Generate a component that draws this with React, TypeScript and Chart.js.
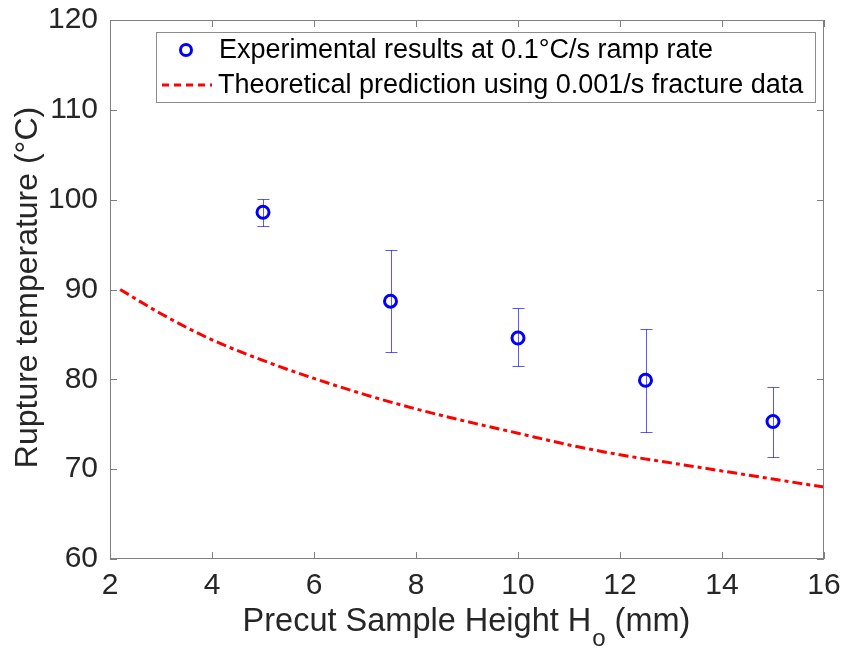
import React, { useEffect, useRef } from "react";
import { Chart, registerables } from "chart.js";

Chart.register(...registerables);

// ---- data ----
const expX = [5, 7.5, 10, 12.5, 15];
const expY = [98.6, 88.7, 84.6, 79.9, 75.3];
const expErrLow = [97.1, 83.0, 81.5, 74.1, 71.4];
const expErrHigh = [100.1, 94.4, 87.9, 85.6, 79.2];

const theoX = [2.2, 3, 4, 5, 6, 7, 8, 9, 10, 11, 12, 13, 14, 15, 16];
const theoY = [90.0, 87.3, 84.4, 82.1, 80.1, 78.3, 76.7, 75.3, 74.0, 72.7, 71.6, 70.7, 69.8, 68.9, 68.0];

const xTicks = [2, 4, 6, 8, 10, 12, 14, 16];
const yTicks = [60, 70, 80, 90, 100, 110, 120];

const expLabel = "Experimental results at 0.1°C/s ramp rate";
const theoLabel = "Theoretical prediction using 0.001/s fracture data";
const yTitle = "Rupture temperature (°C)";
const xTitleMain = "Precut Sample Height H";
const xTitleSub = "o";
const xTitleTail = " (mm)";

const FONT = "'Liberation Sans', Arial, Helvetica, sans-serif";
const AXIS_COLOR = "#808080";
const TEXT_COLOR = "#262626";
const DASH = [10, 4, 4, 4];

const errorBarPlugin = {
  id: "errorBars",
  afterDatasetsDraw(chart: any) {
    const ctx = chart.ctx;
    const xs = chart.scales.x;
    const ys = chart.scales.y;
    ctx.save();
    ctx.strokeStyle = "rgba(0,0,255,0.65)";
    ctx.lineWidth = 1;
    for (let i = 0; i < expX.length; i++) {
      const px = Math.round(xs.getPixelForValue(expX[i])) + 0.5;
      const lo = Math.round(ys.getPixelForValue(expErrLow[i])) + 0.5;
      const hi = Math.round(ys.getPixelForValue(expErrHigh[i])) + 0.5;
      ctx.beginPath();
      ctx.moveTo(px, lo);
      ctx.lineTo(px, hi);
      ctx.moveTo(px - 6, lo);
      ctx.lineTo(px + 6, lo);
      ctx.moveTo(px - 6, hi);
      ctx.lineTo(px + 6, hi);
      ctx.stroke();
    }
    ctx.restore();
  },
};

const framePlugin = {
  id: "frame",
  afterDraw(chart: any) {
    const ctx = chart.ctx;
    const a = chart.chartArea;
    const xs = chart.scales.x;
    const ys = chart.scales.y;
    ctx.save();
    ctx.strokeStyle = AXIS_COLOR;
    ctx.lineWidth = 1;
    ctx.strokeRect(a.left + 0.5, a.top + 0.5, a.right - a.left - 1, a.bottom - a.top - 1);
    const tl = 7;
    ctx.beginPath();
    for (const v of xTicks) {
      const px = Math.round(xs.getPixelForValue(v)) + 0.5;
      ctx.moveTo(px, a.bottom);
      ctx.lineTo(px, a.bottom - tl);
      ctx.moveTo(px, a.top);
      ctx.lineTo(px, a.top + tl);
    }
    for (const v of yTicks) {
      const py = Math.round(ys.getPixelForValue(v)) + 0.5;
      ctx.moveTo(a.left, py);
      ctx.lineTo(a.left + tl, py);
      ctx.moveTo(a.right, py);
      ctx.lineTo(a.right - tl, py);
    }
    ctx.stroke();

    // y title
    ctx.fillStyle = TEXT_COLOR;
    ctx.font = `32px ${FONT}`;
    ctx.textAlign = "center";
    ctx.textBaseline = "middle";
    ctx.save();
    ctx.translate(28, (a.top + a.bottom) / 2 - 2);
    ctx.rotate(-Math.PI / 2);
    ctx.fillText(yTitle, 0, 0);
    ctx.restore();

    // x title with subscript
    const bigFont = `32.5px ${FONT}`;
    const smallFont = `24px ${FONT}`;
    ctx.textBaseline = "alphabetic";
    ctx.textAlign = "left";
    ctx.font = bigFont;
    const w1 = ctx.measureText(xTitleMain).width;
    const w3 = ctx.measureText(xTitleTail).width;
    ctx.font = smallFont;
    const w2 = ctx.measureText(xTitleSub).width;
    const total = w1 + w2 + w3;
    const cx = (a.left + a.right) / 2;
    const x0 = cx - total / 2 - 1;
    const base = a.bottom + 72;
    ctx.font = bigFont;
    ctx.fillText(xTitleMain, x0, base);
    ctx.font = smallFont;
    ctx.fillText(xTitleSub, x0 + w1 + 1, base + 15);
    ctx.font = bigFont;
    ctx.fillText(xTitleTail, x0 + w1 + w2 + 1, base);

    // legend
    const lx = a.left + 46;
    const ly = a.top + 12;
    const lw = 659;
    const lh = 70;
    ctx.fillStyle = "#ffffff";
    ctx.fillRect(lx, ly, lw, lh);
    ctx.strokeStyle = "#8c8c8c";
    ctx.lineWidth = 1;
    ctx.strokeRect(lx + 0.5, ly + 0.5, lw, lh);
    const r1 = ly + 18;
    const r2 = ly + 53;
    ctx.strokeStyle = "#0000ff";
    ctx.lineWidth = 3;
    ctx.beginPath();
    ctx.arc(lx + 30, r1, 5.5, 0, Math.PI * 2);
    ctx.stroke();
    ctx.strokeStyle = "#ff0000";
    ctx.lineWidth = 3;
    ctx.setLineDash([7, 5]);
    ctx.beginPath();
    ctx.moveTo(lx + 6, r2);
    ctx.lineTo(lx + 56, r2);
    ctx.stroke();
    ctx.setLineDash([]);
    ctx.fillStyle = "#000000";
    ctx.font = `27px ${FONT}`;
    ctx.textBaseline = "middle";
    ctx.fillText(expLabel, lx + 63, r1 + 1);
    ctx.fillText(theoLabel, lx + 62, r2 + 1);
    ctx.restore();
  },
};

export default function App() {
  const ref = useRef<HTMLCanvasElement | null>(null);
  useEffect(() => {
    if (!ref.current) return;
    const chart = new Chart(ref.current, {
      type: "scatter",
      data: {
        datasets: [
          {
            type: "scatter",
            label: expLabel,
            data: expX.map((x, i) => ({ x, y: expY[i] })),
            pointStyle: "circle",
            pointRadius: 6,
            pointBorderWidth: 3,
            borderColor: "#0000ff",
            backgroundColor: "rgba(0,0,0,0)",
            order: 1,
          },
          {
            type: "line",
            label: theoLabel,
            data: theoX.map((x, i) => ({ x, y: theoY[i] })),
            borderColor: "#ff0000",
            borderWidth: 3,
            borderDash: DASH,
            pointRadius: 0,
            cubicInterpolationMode: "monotone",
            fill: false,
            order: 2,
          } as any,
        ],
      },
      options: {
        responsive: false,
        animation: false,
        layout: { padding: { top: 20, right: 17, left: 0, bottom: 0 } },
        plugins: { legend: { display: false }, tooltip: { enabled: false } },
        scales: {
          x: {
            type: "linear",
            min: 2,
            max: 16,
            afterFit: (s: any) => {
              s.height = 95;
              s.paddingLeft = 0;
              s.paddingRight = 0;
            },
            afterBuildTicks: (s: any) => { s.ticks = xTicks.map((v) => ({ value: v })); },
            grid: { display: false, drawTicks: false },
            border: { display: false },
            ticks: { color: TEXT_COLOR, font: { family: FONT, size: 30 }, padding: 9, maxRotation: 0 },
          },
          y: {
            type: "linear",
            min: 60,
            max: 120,
            afterFit: (s: any) => {
              s.width = 110;
              s.paddingTop = 0;
              s.paddingBottom = 0;
            },
            afterBuildTicks: (s: any) => { s.ticks = yTicks.map((v) => ({ value: v })); },
            grid: { display: false, drawTicks: false },
            border: { display: false },
            ticks: { color: TEXT_COLOR, font: { family: FONT, size: 30 }, padding: 12 },
          },
        },
      },
      plugins: [errorBarPlugin, framePlugin],
    });
    return () => chart.destroy();
  }, []);
  return (
    <div style={{ position: "absolute", left: 0, top: 0, width: 841, height: 654, background: "#fff" }}>
      <canvas ref={ref} width={841} height={654} style={{ display: "block" }} />
    </div>
  );
}
